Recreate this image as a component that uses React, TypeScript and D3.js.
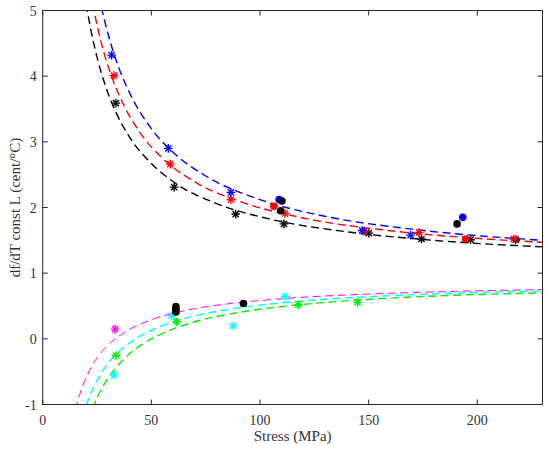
import React from "react";
import * as d3 from "d3";

type P = [number, number];

// Fitted curves
const curveBlue: P[] = [[27,5.05],[30,4.65],[35,4.13],[40,3.745],[50,3.2],[60,2.84],[75,2.48],[100,2.12],[130,1.865],[170,1.67],[230,1.5]];
const curveRed: P[] = [[23,5.105],[25,4.78],[28,4.38],[32,3.97],[37,3.58],[45,3.13],[55,2.755],[70,2.39],[90,2.1],[120,1.84],[160,1.647],[200,1.53],[230,1.47]];
const curveBlack: P[] = [[20,5.1],[22,4.73],[25,4.29],[29,3.84],[34,3.43],[40,3.07],[50,2.67],[62,2.35],[80,2.06],[105,1.82],[140,1.63],[180,1.5],[230,1.4]];
const curveMagenta: P[] = [[15,-1.08],[17,-0.85],[20,-0.59],[24,-0.34],[30,-0.1],[38,0.106],[50,0.29],[65,0.426],[85,0.532],[110,0.611],[150,0.682],[190,0.723],[230,0.75]];
const curveCyan: P[] = [[20,-1.02],[22,-0.84],[25,-0.635],[29,-0.42],[34,-0.23],[42,-0.015],[55,0.2],[70,0.35],[90,0.47],[120,0.578],[160,0.658],[200,0.705],[230,0.73]];
const curveGreen: P[] = [[23,-1.06],[25,-0.9],[28,-0.71],[32,-0.51],[37,-0.32],[45,-0.1],[55,0.08],[70,0.26],[90,0.4],[120,0.525],[160,0.62],[200,0.675],[230,0.7]];

// Measured points (stars)
const starsBlack: P[] = [[33.7,3.59],[60.5,2.31],[88.8,1.9],[111,1.75],[150.1,1.61],[174.3,1.52],[196.9,1.51],[217.7,1.51]];
const starsRed: P[] = [[32.8,4.01],[58.7,2.66],[86.6,2.12],[111.5,1.91],[148,1.64],[173.2,1.62],[216.8,1.52]];
const starsBlue: P[] = [[31.7,4.32],[57.8,2.9],[86.6,2.23],[147,1.65],[169.3,1.58]];
const starsMagenta: P[] = [[33.3,0.148]];
const starsCyan: P[] = [[32.8,-0.553],[59.3,0.35],[87.7,0.198],[111.5,0.644]];
const starsGreen: P[] = [[33.7,-0.254],[61.6,0.26],[117.6,0.52],[144.9,0.553]];

// Measured points (dots)
const dotsRed: P[] = [[106.4,2.02],[194.6,1.52]];
const dotsBlue: P[] = [[108.8,2.12],[193.3,1.85]];
const dotsBlack: P[] = [[110.1,2.1],[109.5,1.95],[190.7,1.75],[61.3,0.49],[61.3,0.45],[61.3,0.41],[92.4,0.537]];

const xTicks = [0, 50, 100, 150, 200];
const yTicks = [-1, 0, 1, 2, 3, 4, 5];

const W = 550, H = 450;
const L = 42.7, R = 542.5, T = 10.5, B = 404.5;

const x = d3.scaleLinear().domain([0, 230]).range([L, R]);
const y = d3.scaleLinear().domain([-1, 5]).range([B, T]);
const line = d3.line<P>().x(d => x(d[0])).y(d => y(d[1])).curve(d3.curveMonotoneX);

const FONT = "Liberation Serif, Times New Roman, serif";
const AX = "#262626";
const TXT = "#333333";

function Star({ p, c }: { p: P; c: string }) {
  const cx = x(p[0]), cy = y(p[1]);
  const r = 4.3, d = r * 0.72;
  return (
    <g stroke={c} strokeWidth={1.4}>
      <line x1={cx - r} y1={cy} x2={cx + r} y2={cy} />
      <line x1={cx} y1={cy - r} x2={cx} y2={cy + r} />
      <line x1={cx - d} y1={cy - d} x2={cx + d} y2={cy + d} />
      <line x1={cx - d} y1={cy + d} x2={cx + d} y2={cy - d} />
    </g>
  );
}

function Dot({ p, c }: { p: P; c: string }) {
  return <circle cx={x(p[0])} cy={y(p[1])} r={3.8} fill={c} />;
}

export default function App() {
  const curves: [P[], string, number][] = [
    [curveMagenta, "#ff00ff", 1.0],
    [curveCyan, "#00ffff", 1.4],
    [curveGreen, "#00ee00", 1.4],
    [curveBlack, "#000000", 1.4],
    [curveRed, "#ff0000", 1.4],
    [curveBlue, "#0000ff", 1.4],
  ];
  const stars: [P[], string][] = [
    [starsMagenta, "#ff00ff"],
    [starsCyan, "#00ffff"],
    [starsGreen, "#00ee00"],
    [starsBlack, "#000000"],
    [starsRed, "#ff0000"],
    [starsBlue, "#0000ff"],
  ];
  const dots: [P[], string][] = [
    [dotsRed, "#ff0000"],
    [dotsBlue, "#0000ff"],
    [dotsBlack, "#000000"],
  ];
  return (
    <svg width={W} height={H} style={{ position: "absolute", left: 0, top: 0, background: "#fff", fontFamily: FONT }}>
      <defs>
        <clipPath id="plotclip">
          <rect x={L} y={T} width={R - L} height={B - T} />
        </clipPath>
      </defs>
      <rect x={0} y={0} width={W} height={H} fill="#fff" />
      <g clipPath="url(#plotclip)">
        {curves.map(([pts, c, w], i) => (
          <path key={i} d={line(pts) || ""} fill="none" stroke={c} strokeWidth={w} strokeDasharray="8,4.5" />
        ))}
        {stars.map(([pts, c], i) => pts.map((p, j) => <Star key={`s${i}-${j}`} p={p} c={c} />))}
        {dots.map(([pts, c], i) => pts.map((p, j) => <Dot key={`d${i}-${j}`} p={p} c={c} />))}
      </g>
      <rect x={L} y={T} width={R - L} height={B - T} fill="none" stroke={AX} strokeWidth={1} />
      {xTicks.map(t => (
        <g key={`x${t}`}>
          <line x1={x(t)} x2={x(t)} y1={B} y2={B - 5} stroke={AX} />
          <line x1={x(t)} x2={x(t)} y1={T} y2={T + 5} stroke={AX} />
          <text x={x(t)} y={B + 20} textAnchor="middle" fontSize={14} fill={TXT}>{t}</text>
        </g>
      ))}
      {yTicks.map(t => (
        <g key={`y${t}`}>
          <line x1={L} x2={L + 5} y1={y(t)} y2={y(t)} stroke={AX} />
          <line x1={R} x2={R - 5} y1={y(t)} y2={y(t)} stroke={AX} />
          <text x={L - 6} y={y(t) + 5} textAnchor="end" fontSize={14} fill={TXT}>{t}</text>
        </g>
      ))}
      <text x={(L + R) / 2} y={B + 36} textAnchor="middle" fontSize={15} fill={TXT}>Stress (MPa)</text>
      <text transform={`translate(20,${(T + B) / 2}) rotate(-90)`} textAnchor="middle" fontSize={15} fill={TXT}>df/dT const L (cent/°C)</text>
    </svg>
  );
}
